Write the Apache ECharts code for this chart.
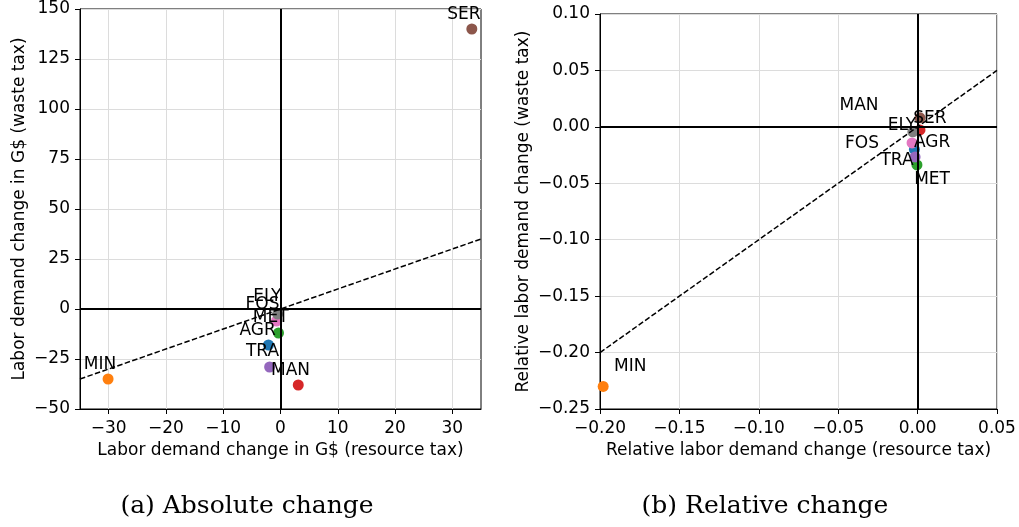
<!DOCTYPE html>
<html>
<head>
<meta charset="utf-8">
<script src="https://cdn.jsdelivr.net/npm/echarts@6/dist/echarts.min.js"></script>
<style>
html,body{margin:0;padding:0;background:#fff;}
#chart{width:1019px;height:527px;}
</style>
</head>
<body>
<div id="chart"></div>
<script>
// ---- data ----
const sectors = ['AGR', 'MIN', 'MET', 'MAN', 'TRA', 'SER', 'FOS', 'ELY'];
const palette = ['#1f77b4', '#ff7f0e', '#2ca02c', '#d62728', '#9467bd', '#8c564b', '#e377c2', '#7f7f7f'];

// (a) absolute change, G$
const absResource = [-2.1, -30.1, -0.35, 3.1, -1.9, 33.4, -0.7, -0.5];
const absWaste = [-18, -35, -12, -38, -29, 140, -6, -2.5];
const absLabelX = [-4.0, -31.5, -1.7, 1.75, -3.15, 32.0, -3.15, -2.3];
const absLabelY = [-11, -28, -4.5, -31, -21.5, 147, 2, 6];
const absXTicks = [-30, -20, -10, 0, 10, 20, 30];
const absDiag = [-35, 35];

// (b) relative change
const relResource = [-0.002, -0.198, -0.0004, 0.0015, -0.0016, 0.0015, -0.0035, -0.003];
const relWaste = [-0.02, -0.230, -0.0337, -0.0027, -0.0266, 0.008, -0.0142, -0.0044];
const relLabelX = [0.0091, -0.181, 0.0091, -0.0369, -0.013, 0.0078, -0.035, -0.0098];
const relLabelY = [-0.0142, -0.2128, -0.047, 0.0186, -0.0301, 0.0071, -0.0151, 0.0009];
const relDiag = [-0.2, 0.05];

const captions = ['(a) Absolute change', '(b) Relative change'];

// ---- chart ----
const FONT = 'DejaVu Sans';
const FS = 17;
const GRIDC = '#dcdcdc';

function fmtAbs(v) { return String(Math.round(v)).replace('-', '\u2212'); }
function fmtRel(v) { if (Math.abs(v) < 1e-9) return '0.00'; return v.toFixed(2).replace('-', '\u2212'); }

function pts(xs, ys) { return xs.map((x, i) => ({ value: [x, ys[i]], itemStyle: { color: palette[i], opacity: 1 } })); }
function labs(xs, ys) { return xs.map((x, i) => ({ name: sectors[i], value: [x, ys[i]] })); }

const axisCommon = {
  type: 'value',
  axisLine: { show: true, onZero: false, lineStyle: { color: '#000', width: 1 } },
  axisTick: { show: true, inside: false, length: 5, lineStyle: { color: '#000', width: 1 } },
  axisLabel: { color: '#000', fontFamily: FONT, fontSize: FS },
  nameTextStyle: { color: '#000', fontFamily: FONT, fontSize: FS },
  nameLocation: 'middle',
  splitLine: { show: true, lineStyle: { color: GRIDC, width: 1 } }
};

const chart = echarts.init(document.getElementById('chart'), null, { renderer: 'canvas' });

const labelStyle = { show: true, position: 'inside', formatter: '{b}', color: '#000', opacity: 1, textBorderWidth: 0, fontFamily: FONT, fontSize: FS };

const option = {
  animation: false,
  backgroundColor: '#fff',
  grid: [
    { left: 80, top: 9, width: 401, height: 400, show: true, borderColor: '#000', borderWidth: 1, backgroundColor: 'transparent' },
    { left: 600, top: 14, width: 397, height: 395, show: true, borderColor: '#000', borderWidth: 1, backgroundColor: 'transparent' }
  ],
  xAxis: [
    Object.assign({}, axisCommon, {
      gridIndex: 0, min: -35, max: 35,
      name: 'Labor demand change in G$ (resource tax)', nameGap: 33,
      axisLabel: Object.assign({}, axisCommon.axisLabel, { customValues: absXTicks, formatter: fmtAbs, margin: 11 }),
      axisTick: Object.assign({}, axisCommon.axisTick, { customValues: absXTicks }),
      splitLine: { show: false }
    }),
    Object.assign({}, axisCommon, {
      gridIndex: 1, min: -0.2, max: 0.05, interval: 0.05,
      name: 'Relative labor demand change (resource tax)', nameGap: 33,
      axisLabel: Object.assign({}, axisCommon.axisLabel, { formatter: fmtRel, margin: 11 })
    })
  ],
  yAxis: [
    Object.assign({}, axisCommon, {
      gridIndex: 0, min: -50, max: 150, interval: 25,
      name: 'Labor demand change in G$ (waste tax)', nameGap: 52,
      axisLabel: Object.assign({}, axisCommon.axisLabel, { formatter: fmtAbs, margin: 10 })
    }),
    Object.assign({}, axisCommon, {
      gridIndex: 1, min: -0.25, max: 0.10, interval: 0.05,
      name: 'Relative labor demand change (waste tax)', nameGap: 68,
      axisLabel: Object.assign({}, axisCommon.axisLabel, { formatter: fmtRel, margin: 10 })
    })
  ],
  series: [
    // vertical grid lines for panel (a)
    {
      type: 'line', xAxisIndex: 0, yAxisIndex: 0, data: [], silent: true, z: 0,
      markLine: {
        silent: true, symbol: ['none', 'none'], z: 0, label: { show: false },
        lineStyle: { color: GRIDC, width: 1, type: 'solid' },
        data: absXTicks.map(v => ({ xAxis: v }))
      }
    },
    // points
    {
      type: 'scatter', xAxisIndex: 0, yAxisIndex: 0, symbol: 'circle', symbolSize: 11, z: 2,
      itemStyle: { opacity: 1 }, data: pts(absResource, absWaste), silent: true
    },
    {
      type: 'scatter', xAxisIndex: 1, yAxisIndex: 1, symbol: 'circle', symbolSize: 11, z: 2,
      itemStyle: { opacity: 1 }, data: pts(relResource, relWaste), silent: true
    },
    // diagonal y = x and zero lines
    {
      type: 'line', xAxisIndex: 0, yAxisIndex: 0, z: 3, symbol: 'none', silent: true,
      data: absDiag.map(v => [v, v]),
      lineStyle: { color: '#000', width: 1.5, type: [5.5, 2.4] },
      markLine: {
        silent: true, symbol: ['none', 'none'], z: 3, label: { show: false },
        lineStyle: { color: '#000', width: 2, type: 'solid' },
        data: [{ xAxis: 0 }, { yAxis: 0 }]
      }
    },
    {
      type: 'line', xAxisIndex: 1, yAxisIndex: 1, z: 3, symbol: 'none', silent: true,
      data: relDiag.map(v => [v, v]),
      lineStyle: { color: '#000', width: 1.5, type: [5.5, 2.4] },
      markLine: {
        silent: true, symbol: ['none', 'none'], z: 3, label: { show: false },
        lineStyle: { color: '#000', width: 2, type: 'solid' },
        data: [{ xAxis: 0 }, { yAxis: 0 }]
      }
    },
    // sector labels
    {
      type: 'scatter', xAxisIndex: 0, yAxisIndex: 0, symbolSize: 0, z: 5, silent: true,
      itemStyle: { opacity: 1 },
      data: labs(absLabelX, absLabelY),
      label: labelStyle
    },
    {
      type: 'scatter', xAxisIndex: 1, yAxisIndex: 1, symbolSize: 0, z: 5, silent: true,
      itemStyle: { opacity: 1 },
      data: labs(relLabelX, relLabelY),
      label: labelStyle
    }
  ],
  graphic: [
    { type: 'text', x: 247, y: 506, style: { text: captions[0], fill: '#000', font: '25px "DejaVu Serif"', textAlign: 'center', textVerticalAlign: 'middle' } },
    { type: 'text', x: 765, y: 506, style: { text: captions[1], fill: '#000', font: '25px "DejaVu Serif"', textAlign: 'center', textVerticalAlign: 'middle' } }
  ]
};

chart.setOption(option);
</script>
</body>
</html>
